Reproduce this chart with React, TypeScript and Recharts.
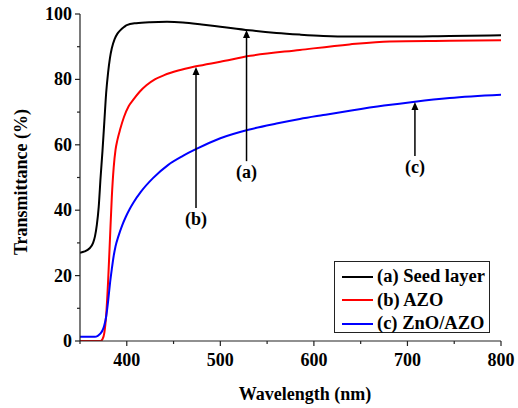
import React from 'react';
import { LineChart, Line, XAxis, YAxis, ReferenceLine, Legend } from 'recharts';

// ---------- data ----------
const seedLayer = [
  { wl: 350, t: 27.0 }, { wl: 355, t: 27.4 }, { wl: 360, t: 28.3 }, { wl: 364, t: 30 },
  { wl: 366, t: 32 }, { wl: 368, t: 35.5 }, { wl: 370, t: 41 }, { wl: 372, t: 50 },
  { wl: 374, t: 58 }, { wl: 376, t: 67 }, { wl: 378, t: 76 }, { wl: 380, t: 82 },
  { wl: 382, t: 86.5 }, { wl: 384, t: 89.5 }, { wl: 387, t: 92.3 }, { wl: 390, t: 94 },
  { wl: 393, t: 95 }, { wl: 397, t: 96 }, { wl: 400, t: 96.6 }, { wl: 410, t: 97.2 },
  { wl: 425, t: 97.5 }, { wl: 443, t: 97.6 }, { wl: 460, t: 97.4 }, { wl: 480, t: 96.8 },
  { wl: 500, t: 96.1 }, { wl: 531, t: 95 }, { wl: 560, t: 94.2 }, { wl: 585, t: 93.7 },
  { wl: 610, t: 93.3 }, { wl: 638, t: 93.1 }, { wl: 692, t: 93.1 }, { wl: 745, t: 93.3 },
  { wl: 800, t: 93.5 },
];

const azo = [
  { wl: 350, t: 0 }, { wl: 372, t: 0 }, { wl: 374, t: 0.5 }, { wl: 376, t: 2.5 },
  { wl: 378, t: 8 }, { wl: 380, t: 18 }, { wl: 382, t: 31 }, { wl: 384, t: 44 },
  { wl: 386, t: 53 }, { wl: 388, t: 58.5 }, { wl: 390, t: 61.5 }, { wl: 393, t: 64.8 },
  { wl: 397, t: 68.5 }, { wl: 402, t: 71.8 }, { wl: 407, t: 73.8 }, { wl: 414, t: 76.3 },
  { wl: 421, t: 78.2 }, { wl: 430, t: 80.0 }, { wl: 440, t: 81.3 }, { wl: 455, t: 82.7 },
  { wl: 474, t: 84 }, { wl: 500, t: 85.4 }, { wl: 532, t: 87.2 }, { wl: 585, t: 89 },
  { wl: 638, t: 90.7 }, { wl: 681, t: 91.6 }, { wl: 745, t: 91.8 }, { wl: 800, t: 92 },
];

const znoAzo = [
  { wl: 350, t: 1.3 }, { wl: 366, t: 1.3 }, { wl: 369, t: 1.6 }, { wl: 372, t: 2.3 },
  { wl: 374, t: 3.2 }, { wl: 376, t: 4.8 }, { wl: 378, t: 7.5 }, { wl: 380, t: 12 },
  { wl: 382, t: 17.5 }, { wl: 384, t: 22 }, { wl: 386, t: 26 }, { wl: 388, t: 29 },
  { wl: 391, t: 32 }, { wl: 395, t: 35.3 }, { wl: 399, t: 38 }, { wl: 403, t: 40.3 },
  { wl: 407, t: 42.3 }, { wl: 415, t: 45.6 }, { wl: 428, t: 49.8 }, { wl: 444, t: 53.8 },
  { wl: 460, t: 56.6 }, { wl: 475, t: 58.8 }, { wl: 500, t: 62.0 }, { wl: 530, t: 64.6 },
  { wl: 560, t: 66.5 }, { wl: 585, t: 67.9 }, { wl: 610, t: 69.1 }, { wl: 640, t: 70.5 },
  { wl: 675, t: 72.0 }, { wl: 708, t: 73.2 }, { wl: 745, t: 74.3 }, { wl: 800, t: 75.3 },
];

const seriesNames = ['(a) Seed layer', '(b) AZO', '(c) ZnO/AZO'];
const seriesColors = ['#000000', '#ff0000', '#0000ff'];

const xTicks = [350, 400, 450, 500, 550, 600, 650, 700, 750, 800];
const xLabelTicks = [400, 500, 600, 700, 800];
const yTicks = [0, 10, 20, 30, 40, 50, 60, 70, 80, 90, 100];
const yLabelTicks = [0, 20, 40, 60, 80, 100];

// arrows: label, wavelength, head value, tail value
const arrowLabels = ['(a)', '(b)', '(c)'];
const arrowWl = [528, 474, 708];
const arrowHead = [95.1, 83.8, 73.1];
const arrowTail = [55.0, 40.7, 56.6];

// ---------- styles ----------
const FONT = "'Liberation Serif', 'DejaVu Serif', serif";
const AXIS_COLOR = '#222';
const TXT = { fontFamily: FONT, fontWeight: 700, fontSize: 18 };

const BottomTick = (props: any) => {
  const { x, y, payload } = props;
  const major = xLabelTicks.includes(payload.value);
  return (
    <g>
      <line x1={x} y1={y} x2={x} y2={y + (payload.value % 100 === 0 ? 5 : 3)} stroke={AXIS_COLOR} strokeWidth={1.2} />
      {major && (
        <text x={x} y={y + 25} textAnchor="middle" style={TXT} fill="#000">
          {payload.value}
        </text>
      )}
    </g>
  );
};

const TopTick = (props: any) => {
  const { x, y, payload } = props;
  return <line x1={x} y1={y} x2={x} y2={y - (payload.value % 100 === 0 ? 5 : 3)} stroke={AXIS_COLOR} strokeWidth={1.2} />;
};

const LeftTick = (props: any) => {
  const { x, y, payload } = props;
  const major = yLabelTicks.includes(payload.value);
  return (
    <g>
      <line x1={x} y1={y} x2={x - (major ? 5 : 3)} y2={y} stroke={AXIS_COLOR} strokeWidth={1.2} />
      {major && (
        <text x={x - 8} y={y + 6} textAnchor="end" style={TXT} fill="#000">
          {payload.value}
        </text>
      )}
    </g>
  );
};

const RightTick = (props: any) => {
  const { x, y, payload } = props;
  const major = yLabelTicks.includes(payload.value);
  return <line x1={x} y1={y} x2={x + (major ? 5 : 3)} y2={y} stroke={AXIS_COLOR} strokeWidth={1.2} />;
};

const makeArrow = (label: string) => (p: any) => {
  const { x1, y1, x2, y2 } = p;
  const top = Math.min(y1, y2);
  const bottom = Math.max(y1, y2);
  return (
    <g>
      <line x1={x1} y1={top + 6} x2={x2} y2={bottom} stroke="#000" strokeWidth={1.5} />
      <polygon points={`${x1},${top} ${x1 - 3.5},${top + 8} ${x1 + 3.5},${top + 8}`} fill="#000" />
      <text x={x1} y={bottom + 17} textAnchor="middle" style={TXT} fill="#000">
        {label}
      </text>
    </g>
  );
};

const LegendBox = () => (
  <div
    style={{
      width: 156,
      height: 72,
      boxSizing: 'border-box',
      border: '1.2px solid #222',
      background: '#fff',
      paddingTop: 3,
      fontFamily: FONT,
      fontWeight: 700,
      fontSize: 18.5,
    }}
  >
    {seriesNames.map((n, i) => (
      <div key={n} style={{ display: 'flex', alignItems: 'center', height: 23.5, paddingLeft: 7, whiteSpace: 'nowrap' }}>
        <span style={{ display: 'inline-block', width: 31, height: 2, background: seriesColors[i], marginRight: 4, flexShrink: 0 }} />
        <span style={{ lineHeight: '23.5px' }}>{n}</span>
      </div>
    ))}
  </div>
);

export default function App() {
  const seriesData = [seedLayer, azo, znoAzo];
  return (
    <div style={{ position: 'absolute', left: 0, top: 0, width: 518, height: 408, background: '#fff' }}>
      <LineChart width={518} height={408} margin={{ top: 14, right: 17, bottom: 0, left: 0 }}>
        <XAxis
          xAxisId="bottom"
          dataKey="wl"
          type="number"
          domain={[350, 800]}
          ticks={xTicks}
          interval={0}
          allowDataOverflow
          height={67}
          tickSize={0}
          tickMargin={0}
          tickLine={false}
          tick={<BottomTick />}
          axisLine={{ stroke: AXIS_COLOR, strokeWidth: 1.2 }}
          label={() => (
            <text x={305} y={400} textAnchor="middle" style={TXT} fill="#000">
              Wavelength (nm)
            </text>
          )}
        />
        <XAxis
          xAxisId="top"
          orientation="top"
          dataKey="wl"
          type="number"
          domain={[350, 800]}
          ticks={xTicks}
          interval={0}
          allowDataOverflow
          height={0}
          tickSize={0}
          tickMargin={0}
          tickLine={false}
          tick={<TopTick />}
          axisLine={{ stroke: AXIS_COLOR, strokeWidth: 1.2 }}
        />
        <YAxis
          yAxisId="left"
          type="number"
          domain={[0, 100]}
          ticks={yTicks}
          interval={0}
          allowDataOverflow
          width={80}
          tickSize={0}
          tickMargin={0}
          tickLine={false}
          tick={<LeftTick />}
          axisLine={{ stroke: AXIS_COLOR, strokeWidth: 1.2 }}
          label={() => (
            <text x={27} y={182} transform="rotate(-90 27 182)" textAnchor="middle" style={TXT} fill="#000">
              Transmittance (%)
            </text>
          )}
        />
        <YAxis
          yAxisId="right"
          orientation="right"
          type="number"
          domain={[0, 100]}
          ticks={yTicks}
          interval={0}
          allowDataOverflow
          width={0}
          tickSize={0}
          tickMargin={0}
          tickLine={false}
          tick={<RightTick />}
          axisLine={{ stroke: AXIS_COLOR, strokeWidth: 1.2 }}
        />
        {seriesData.map((d, i) => (
          <Line
            key={seriesNames[i]}
            xAxisId="bottom"
            yAxisId="left"
            data={d}
            dataKey="t"
            name={seriesNames[i]}
            type="monotone"
            stroke={seriesColors[i]}
            strokeWidth={2}
            dot={false}
            activeDot={false}
            isAnimationActive={false}
          />
        ))}
        {arrowLabels.map((lab, i) => (
          <ReferenceLine
            key={lab}
            xAxisId="bottom"
            yAxisId="left"
            segment={[
              { x: arrowWl[i], y: arrowHead[i] },
              { x: arrowWl[i], y: arrowTail[i] },
            ]}
            shape={makeArrow(lab)}
          />
        ))}
        <Legend
          layout="vertical"
          align="center"
          verticalAlign="middle"
          content={() => <LegendBox />}
          wrapperStyle={{ left: 334, top: 261, width: 156, height: 72 }}
        />
      </LineChart>
    </div>
  );
}
